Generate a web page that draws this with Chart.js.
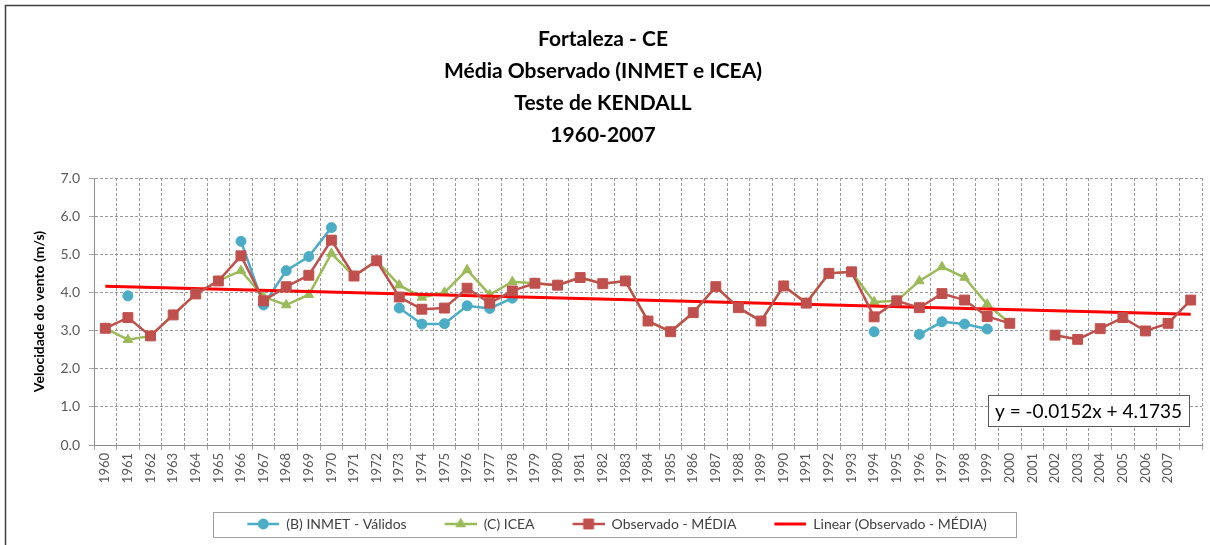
<!DOCTYPE html>
<html><head><meta charset="utf-8">
<script src="https://cdn.jsdelivr.net/npm/chart.js@4.4.1/dist/chart.umd.min.js"></script>
<style>html,body{margin:0;padding:0;background:#fff;overflow:hidden}canvas{display:block}</style>
</head><body>
<canvas id="c" width="1210" height="545"></canvas>
<script>
// ---- DATA ----
const categories = ['1960','1961','1962','1963','1964','1965','1966','1967','1968','1969',
  '1970','1971','1972','1973','1974','1975','1976','1977','1978','1979',
  '1980','1981','1982','1983','1984','1985','1986','1987','1988','1989',
  '1990','1991','1992','1993','1994','1995','1996','1997','1998','1999',
  '2000','2001','2002','2003','2004','2005','2006','2007',''];

const inmetValidos = [null,3.91,null,null,null,null,5.34,3.67,4.57,4.94,
  5.70,null,null,3.59,3.17,3.18,3.65,3.58,3.85,null,
  null,null,null,null,null,null,null,null,null,null,
  null,null,null,null,2.97,null,2.90,3.23,3.17,3.04,
  null,null,null,null,null,null,null,null,null];

const icea = [3.06,2.76,2.86,3.41,3.96,4.30,4.57,3.88,3.67,3.94,
  5.02,4.43,4.83,4.19,3.87,4.00,4.59,3.94,4.28,4.24,
  4.19,4.39,4.23,4.30,3.25,2.97,3.47,4.15,3.60,3.25,
  4.17,3.72,4.50,4.54,3.75,3.78,4.30,4.67,4.39,3.69,
  3.19,null,null,null,null,null,null,null,null];

const observadoMedia = [3.06,3.34,2.86,3.41,3.96,4.30,4.96,3.78,4.15,4.45,
  5.37,4.43,4.83,3.88,3.56,3.59,4.11,3.72,4.04,4.24,
  4.19,4.39,4.23,4.30,3.25,2.97,3.47,4.15,3.60,3.25,
  4.17,3.72,4.50,4.54,3.36,3.78,3.60,3.97,3.80,3.37,
  3.19,null,2.88,2.77,3.05,3.34,2.99,3.19,3.80];

// linear trend endpoints (first and last category)
const linearTrend = [4.16,null,null,null,null,null,null,null,null,null,
  null,null,null,null,null,null,null,null,null,null,
  null,null,null,null,null,null,null,null,null,null,
  null,null,null,null,null,null,null,null,null,null,
  null,null,null,null,null,null,null,null,3.43];

const seriesNames = ['(B) INMET - Válidos','(C) ICEA','Observado - MÉDIA','Linear (Observado - MÉDIA)'];
const titleLines = ['Fortaleza - CE','Média Observado (INMET e ICEA)','Teste de KENDALL','1960-2007'];
const yAxisTitle = 'Velocidade do vento (m/s)';
const yTicks = [0,1,2,3,4,5,6,7];
const equationText = 'y = -0.0152x + 4.1735';

// ---- STYLE ----
const C_BLUE = '#4BACC6', C_GREEN = '#9BBB59', C_RED = '#C0504D', C_TREND = '#FF0000';
const FONT = 'Lato';
const ICON_BLANK = 26, ICON_W = 34;

function legendIcon(color, style, radius, lw) {
  const c = document.createElement('canvas');
  c.width = ICON_BLANK + ICON_W; c.height = 16;
  const g = c.getContext('2d');
  g.strokeStyle = color; g.lineWidth = lw; g.lineCap = 'butt';
  g.beginPath(); g.moveTo(ICON_BLANK + 2, 8); g.lineTo(ICON_BLANK + ICON_W, 8); g.stroke();
  if (style) {
    g.fillStyle = color; g.strokeStyle = color; g.lineWidth = 1;
    Chart.helpers.drawPoint(g, {pointStyle: style, radius: radius, borderWidth: 1}, ICON_BLANK + ICON_W / 2 + 1, 8);
    g.fill();
  }
  return c;
}

const boxPlugin = {
  id: 'extras',
  beforeDraw(chart) {
    const ctx = chart.ctx;
    ctx.save();
    ctx.fillStyle = '#fff';
    ctx.fillRect(0, 0, chart.width, chart.height);
    ctx.strokeStyle = '#404040'; ctx.lineWidth = 1.5;
    ctx.beginPath(); ctx.moveTo(5.5, chart.height); ctx.lineTo(5.5, 5.5); ctx.lineTo(chart.width, 5.5); ctx.stroke();
    ctx.restore();
  },
  afterDraw(chart) {
    const ctx = chart.ctx;
    const {chartArea, scales} = chart;
    // equation box
    ctx.save();
    ctx.font = '19px ' + FONT;
    const tw = ctx.measureText(equationText).width;
    const bw = tw + 14, bh = 31;
    const right = chartArea.right - 13;
    const cy = scales.y.getPixelForValue(0.9);
    ctx.fillStyle = '#fff';
    ctx.fillRect(right - bw, cy - bh / 2, bw, bh);
    ctx.strokeStyle = '#595959'; ctx.lineWidth = 1;
    ctx.strokeRect(Math.round(right - bw) + 0.5, Math.round(cy - bh / 2) + 0.5, Math.round(bw), Math.round(bh));
    ctx.fillStyle = '#000'; ctx.textAlign = 'center'; ctx.textBaseline = 'middle';
    ctx.fillText(equationText, right - bw / 2, cy + 1);
    ctx.restore();
    // legend border
    const hb = chart.legend && chart.legend.legendHitBoxes;
    if (hb && hb.length) {
      const first = hb[0], last = hb[hb.length - 1];
      const l = first.left + ICON_BLANK - 32, r = last.left + last.width + 30;
      const cyL = first.top + first.height / 2;
      ctx.save();
      ctx.strokeStyle = '#a0a0a0'; ctx.lineWidth = 1;
      ctx.strokeRect(Math.round(l) + 0.5, Math.round(cyL - 12) + 0.5, Math.round(r - l), 25);
      ctx.restore();
    }
  }
};

function build() {
  Chart.defaults.font.family = FONT;
  const icons = [
    legendIcon(C_BLUE, 'circle', 5, 2.5),
    legendIcon(C_GREEN, 'triangle', 5.5, 2.5),
    legendIcon(C_RED, 'rect', 7, 2.5),
    legendIcon(C_TREND, null, 0, 3)
  ];
  new Chart(document.getElementById('c'), {
    type: 'line',
    data: {
      labels: categories,
      datasets: [
        {label: seriesNames[0], data: inmetValidos, borderColor: C_BLUE, backgroundColor: C_BLUE,
         pointStyle: 'circle', pointRadius: 5, pointBorderWidth: 1, borderWidth: 2.5, order: 3, spanGaps: false},
        {label: seriesNames[1], data: icea, borderColor: C_GREEN, backgroundColor: C_GREEN,
         pointStyle: 'triangle', pointRadius: 5.5, pointBorderWidth: 1, borderWidth: 2.5, order: 2, spanGaps: false},
        {label: seriesNames[2], data: observadoMedia, borderColor: C_RED, backgroundColor: C_RED,
         pointStyle: 'rect', pointRadius: 7, pointBorderWidth: 1, borderWidth: 2.5, order: 0, spanGaps: false},
        {label: seriesNames[3], data: linearTrend, borderColor: C_TREND, backgroundColor: C_TREND,
         pointRadius: 0, borderWidth: 3, order: 1, spanGaps: true}
      ]
    },
    options: {
      responsive: false,
      animation: false,
      events: [],
      layout: {padding: {left: 0, right: 4, top: 0, bottom: 4}},
      plugins: {
        title: {
          display: true, text: titleLines, color: '#000',
          font: {family: FONT, size: 21, weight: 'bold', lineHeight: 32 / 21},
          padding: {top: 23, bottom: 27}
        },
        legend: {
          position: 'bottom',
          labels: {
            usePointStyle: true, pointStyleWidth: ICON_BLANK + ICON_W, padding: 10,
            color: '#404040', font: {family: FONT, size: 14},
            sort: (a, b) => a.datasetIndex - b.datasetIndex,
            generateLabels(chart) {
              return chart.data.datasets.map((ds, i) => ({
                text: ds.label, datasetIndex: i, pointStyle: icons[i],
                fillStyle: ds.borderColor, strokeStyle: ds.borderColor, lineWidth: 0,
                hidden: false, fontColor: '#404040'
              }));
            }
          }
        },
        tooltip: {enabled: false}
      },
      scales: {
        x: {
          type: 'category', offset: true,
          afterFit(s) { s.height = 62; },
          grid: {offset: true, color: '#9a9a9a', lineWidth: 1, drawTicks: true, tickLength: 5, tickColor: '#a6a6a6', tickBorderDash: []},
          border: {display: true, color: '#8c8c8c', width: 1, dash: [3, 2]},
          ticks: {autoSkip: false, maxRotation: 90, minRotation: 90, padding: 3, color: '#595959', font: {family: FONT, size: 13}}
        },
        y: {
          min: 0, max: 7,
          afterFit(s) { s.width = 94; },
          afterBuildTicks(s) { s.ticks = yTicks.map(v => ({value: v})); },
          grid: {color: '#9a9a9a', lineWidth: 1, tickLength: 5, tickColor: '#a6a6a6', tickBorderDash: []},
          border: {display: true, color: '#8c8c8c', width: 1, dash: [3, 2]},
          ticks: {padding: 9, color: '#595959', font: {family: FONT, size: 14}, callback: v => Number(v).toFixed(1)},
          title: {display: true, text: yAxisTitle, color: '#000', font: {family: FONT, size: 14, weight: 'bold'}, padding: {top: 31, bottom: 0}}
        }
      }
    },
    plugins: [boxPlugin]
  });
}

if (document.fonts && document.fonts.load) {
  Promise.all([document.fonts.load('bold 21px Lato'), document.fonts.load('14px Lato')]).then(build, build);
} else { build(); }
</script>
</body></html>
